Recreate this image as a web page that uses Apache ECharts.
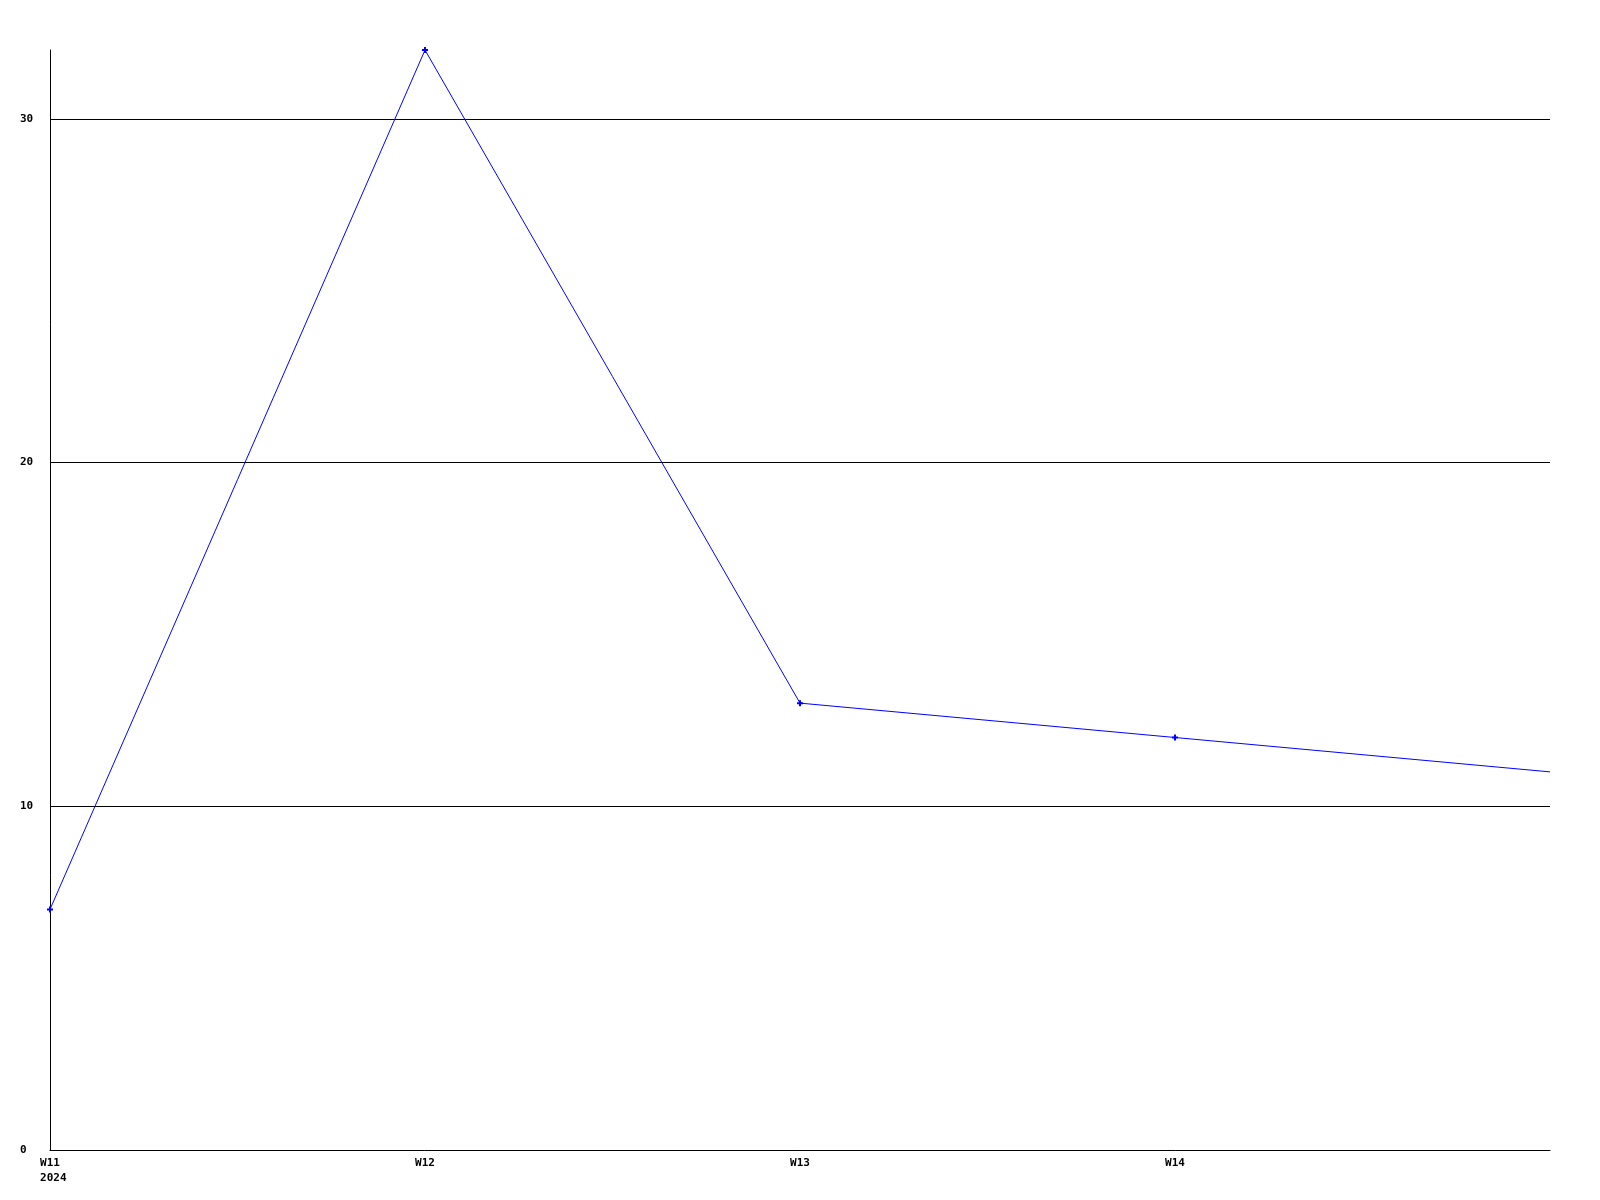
<!DOCTYPE html>
<html>
<head>
<meta charset="utf-8">
<script src="https://cdn.jsdelivr.net/npm/echarts@6/dist/echarts.min.js"></script>
<style>html,body{margin:0;padding:0;background:#fff}#c{width:1600px;height:1200px}</style>
</head>
<body>
<div id="c"></div>
<script>
var categories = ['W11', 'W12', 'W13', 'W14', 'W15'];
var yearLabel = '2024';
var values = [7, 32, 13, 12, 11];
var gridValues = [10, 20, 30];
var yMax = 32;

var chart = echarts.init(document.getElementById('c'));
var font = 'DejaVu Sans Mono';
var data = values.map(function (v, i) {
  return i === values.length - 1 ? { value: v, symbol: 'none' } : v;
});
chart.setOption({
  animation: false,
  backgroundColor: '#ffffff',
  grid: { left: 50, right: 50, top: 50, bottom: 50, containLabel: false },
  xAxis: {
    type: 'category',
    data: categories,
    boundaryGap: false,
    axisLine: { lineStyle: { color: '#000', width: 1 } },
    axisTick: { show: false },
    splitLine: { show: false },
    axisLabel: {
      color: '#000', fontFamily: font, fontWeight: 'bold', fontSize: 11,
      lineHeight: 15, margin: 6, interval: 0,
      formatter: function (v, i) {
        if (i === categories.length - 1) return '';
        return i === 0 ? v + '\n ' + yearLabel : v;
      }
    }
  },
  yAxis: {
    type: 'value', min: 0, max: yMax, interval: 10,
    axisLine: { show: true, lineStyle: { color: '#000', width: 1 } },
    axisTick: { show: false },
    splitLine: { show: true, showMinLine: false, showMaxLine: false, lineStyle: { color: '#000', width: 1 } },
    axisLabel: {
      color: '#000', fontFamily: font, fontWeight: 'bold', fontSize: 11,
      align: 'left', margin: 30, showMaxLabel: false,
      formatter: function (v) { return gridValues.indexOf(v) >= 0 || v === 0 ? String(v) : ''; }
    }
  },
  series: [{
    type: 'line',
    data: data,
    clip: true,
    symbol: 'path://M2,0 L4,0 L4,2 L6,2 L6,4 L4,4 L4,6 L2,6 L2,4 L0,4 L0,2 L2,2 Z',
    symbolSize: 6,
    showSymbol: true,
    lineStyle: { color: '#0000ff', width: 1 },
    itemStyle: { color: '#0000ff' }
  }]
});
</script>
</body>
</html>
